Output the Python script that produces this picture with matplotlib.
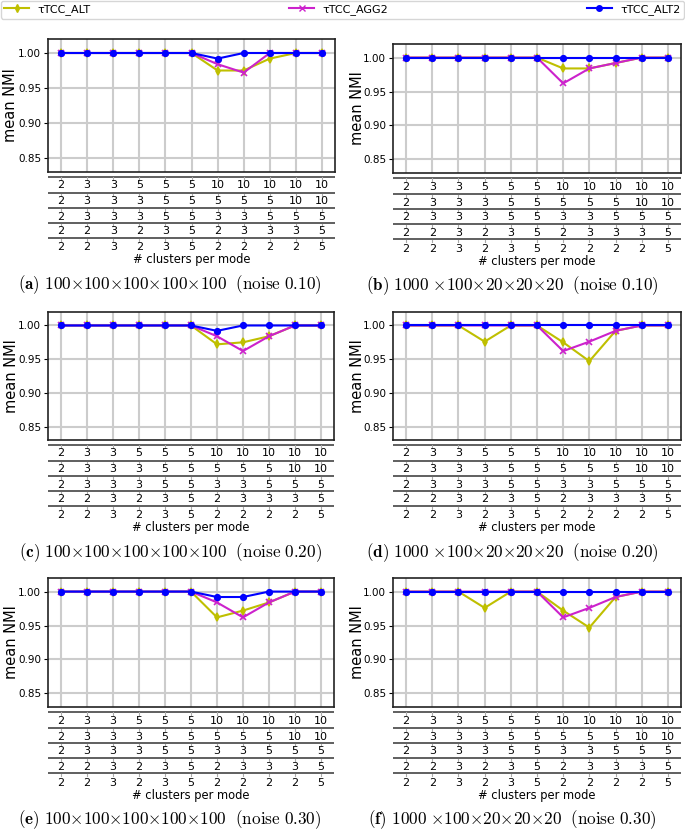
"""
Mean NMI of the three tauTCC variants on synthetic 5-mode tensors
"""

import matplotlib.pyplot as plt
from matplotlib.lines import Line2D

plt.rcParams["mathtext.fontset"] = "cm"

# number of clusters for each of the 5 modes (table under every panel)
clusters_mode1 = [2, 3, 3, 5, 5, 5, 10, 10, 10, 10, 10]
clusters_mode2 = [2, 3, 3, 3, 5, 5, 5, 5, 5, 10, 10]
clusters_mode3 = [2, 3, 3, 3, 5, 5, 3, 3, 5, 5, 5]
clusters_mode4 = [2, 2, 3, 2, 3, 5, 2, 3, 3, 3, 5]
clusters_mode5 = [2, 2, 3, 2, 3, 5, 2, 2, 2, 2, 5]
cluster_rows = [clusters_mode1, clusters_mode2, clusters_mode3, clusters_mode4, clusters_mode5]

series_names = ["τTCC_ALT", "τTCC_AGG2", "τTCC_ALT2"]

# (a) 100^5, noise 0.10
a_alt = [1, 1, 1, 1, 1, 1, 0.975, 0.975, 0.992, 1, 1]
a_agg2 = [1, 1, 1, 1, 1, 1, 0.984, 0.972, 1, 1, 1]
a_alt2 = [1, 1, 1, 1, 1, 1, 0.992, 1, 1, 1, 1]
# (b) 1000x100x20x20x20, noise 0.10
b_alt = [1, 1, 1, 1, 1, 1, 0.984, 0.984, 0.992, 1, 1]
b_agg2 = [1, 1, 1, 1, 1, 1, 0.962, 0.984, 0.992, 1, 1]
b_alt2 = [1, 1, 1, 1, 1, 1, 1, 1, 1, 1, 1]
# (c) 100^5, noise 0.20
c_alt = [1, 1, 1, 1, 1, 1, 0.972, 0.975, 0.984, 1, 1]
c_agg2 = [1, 1, 1, 1, 1, 1, 0.984, 0.962, 0.984, 1, 1]
c_alt2 = [1, 1, 1, 1, 1, 1, 0.992, 1, 1, 1, 1]
# (d) 1000x100x20x20x20, noise 0.20
d_alt = [1, 1, 1, 0.976, 1, 1, 0.975, 0.947, 0.992, 1, 1]
d_agg2 = [1, 1, 1, 1, 1, 1, 0.962, 0.976, 0.992, 1, 1]
d_alt2 = [1, 1, 1, 1, 1, 1, 1, 1, 1, 1, 1]
# (e) 100^5, noise 0.30
e_alt = [1, 1, 1, 1, 1, 1, 0.962, 0.972, 0.984, 1, 1]
e_agg2 = [1, 1, 1, 1, 1, 1, 0.984, 0.962, 0.984, 1, 1]
e_alt2 = [1, 1, 1, 1, 1, 1, 0.992, 0.992, 1, 1, 1]
# (f) 1000x100x20x20x20, noise 0.30
f_alt = [1, 1, 1, 0.976, 1, 1, 0.972, 0.947, 0.992, 1, 1]
f_agg2 = [1, 1, 1, 1, 1, 1, 0.962, 0.976, 0.992, 1, 1]
f_alt2 = [1, 1, 1, 1, 1, 1, 1, 1, 1, 1, 1]

captions = [
    r"$\mathbf{(a)}\ 100{\times}100{\times}100{\times}100{\times}100\ \ \mathrm{(noise\ 0.10)}$",
    r"$\mathbf{(b)}\ 1000\ {\times}100{\times}20{\times}20{\times}20\ \ \mathrm{(noise\ 0.10)}$",
    r"$\mathbf{(c)}\ 100{\times}100{\times}100{\times}100{\times}100\ \ \mathrm{(noise\ 0.20)}$",
    r"$\mathbf{(d)}\ 1000\ {\times}100{\times}20{\times}20{\times}20\ \ \mathrm{(noise\ 0.20)}$",
    r"$\mathbf{(e)}\ 100{\times}100{\times}100{\times}100{\times}100\ \ \mathrm{(noise\ 0.30)}$",
    r"$\mathbf{(f)}\ 1000\ {\times}100{\times}20{\times}20{\times}20\ \ \mathrm{(noise\ 0.30)}$",
]

panels = [
    (a_alt, a_agg2, a_alt2),
    (b_alt, b_agg2, b_alt2),
    (c_alt, c_agg2, c_alt2),
    (d_alt, d_agg2, d_alt2),
    (e_alt, e_agg2, e_alt2),
    (f_alt, f_agg2, f_alt2),
]

colors = ["#bfbf00", "#cc22cc", "#0000ff"]
markers = ["d", "x", "o"]

W, H = 685, 840
# axes boxes in pixels: left, top, right, bottom
boxes = [
    (48, 39, 335, 172), (393, 44, 681, 173),
    (48, 312, 334, 440), (393, 312, 681, 440),
    (48, 578, 334, 707), (393, 578, 681, 707),
]
caption_x = [170, 512]

fig = plt.figure(figsize=(W / 100, H / 100), dpi=100)


def add_px_axes(l, t, r, b):
    return fig.add_axes([l / W, 1 - b / H, (r - l) / W, (b - t) / H])


x = list(range(len(clusters_mode1)))
line_y = [4.5, 21, 36, 51, 66]
text_y = [13, 29, 44, 59, 75]

for i, (series, box, cap) in enumerate(zip(panels, boxes, captions)):
    l, t, r, b = box
    ax = add_px_axes(l, t, r, b)
    for vals, c, m in zip(series, colors, markers):
        ax.plot(x, vals, color=c, marker=m, markersize=4, linewidth=1.5,
                markeredgewidth=1.2)
    ax.set_xlim(-0.5, 10.5)
    ax.set_ylim(0.83, 1.02)
    ax.set_yticks([0.85, 0.90, 0.95, 1.00])
    ax.set_yticklabels(["0.85", "0.90", "0.95", "1.00"], fontsize=7.5)
    ax.set_xticks(x)
    ax.tick_params(axis="x", length=0, labelbottom=False)
    ax.tick_params(axis="y", length=3, width=0.8, pad=2)
    ax.grid(True, color="#cccccc", linewidth=1.5)
    ax.set_axisbelow(True)
    for s in ax.spines.values():
        s.set_color("#222222")
        s.set_linewidth(1.2)
    ax.text(-0.125 if i % 2 else -0.129, 0.5, "mean NMI", transform=ax.transAxes,
            rotation=90, ha="center", va="center", fontsize=10.5)

    # cluster table under the axes
    tax = add_px_axes(l, b, r, b + 95)
    tax.set_xlim(-0.5, 10.5)
    tax.set_ylim(95, 0)
    tax.axis("off")
    for ly, ty, row in zip(line_y, text_y, cluster_rows):
        tax.plot([-0.5, 10.5], [ly, ly], color="#444444", linewidth=1.2,
                 solid_capstyle="butt", clip_on=False)
        for xi, k in zip(x, row):
            tax.plot([xi, xi], [ly + 0.8, ly + 3], color="#aaaaaa", linewidth=0.8)
            tax.text(xi, ty + 0.5, str(k), ha="center", va="center", fontsize=8)
    tax.text(5, 88, "# clusters per mode", ha="center", va="center", fontsize=8.3)

    fig.text(caption_x[i % 2] / W, 1 - (b + 113) / H, cap, ha="center",
             va="center", fontsize=12.3)

handles = [Line2D([], [], color=c, marker=m, markersize=4, linewidth=1.5)
           for c, m in zip(colors, markers)]
fig.legend(handles, series_names, loc="upper left",
           bbox_to_anchor=(1 / W, 1 - 1 / H, 1 - 2 / W, 0), mode="expand",
           ncol=3, fontsize=8, borderaxespad=0, handlelength=2.2,
           borderpad=0.3, fancybox=True)

fig.savefig("out.png", dpi=100)
plt.close(fig)
